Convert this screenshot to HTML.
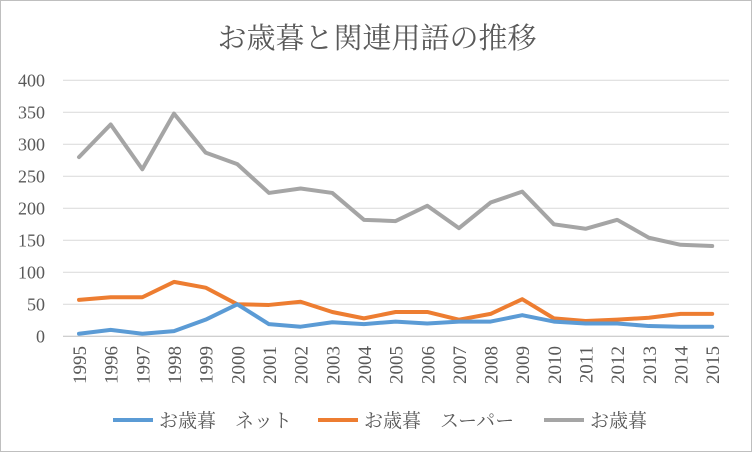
<!DOCTYPE html>
<html><head><meta charset="utf-8"><style>
body{margin:0;background:#fff}
svg{display:block}
</style></head><body>
<svg id="chart" width="752" height="452" xmlns="http://www.w3.org/2000/svg">
<rect x="0.5" y="0.5" width="751" height="451" fill="#fff" stroke="#bfbfbf"/>
<text x="377" y="48" text-anchor="middle" font-family="'Liberation Serif','Noto Serif CJK SC',serif" font-size="29" fill="#595959">お歳暮と関連用語の推移</text>
<g id="grid"></g><g id="yt"></g><g id="xt"></g><g id="series"></g>
<g font-family="'Liberation Serif','Noto Serif CJK SC',serif" font-size="19" fill="#595959">
<g><line x1="113" y1="420" x2="153" y2="420" stroke="#5b9bd5" stroke-width="4"/><text x="159" y="427">お歳暮　ネット</text></g>
<g><line x1="318" y1="420" x2="358" y2="420" stroke="#ed7d31" stroke-width="4"/><text x="364" y="427">お歳暮　スーパー</text></g>
<g><line x1="544" y1="420" x2="584" y2="420" stroke="#a5a5a5" stroke-width="4"/><text x="590" y="427">お歳暮</text></g>
</g>
</svg>
<script>
const years=[1995,1996,1997,1998,1999,2000,2001,2002,2003,2004,2005,2006,2007,2008,2009,2010,2011,2012,2013,2014,2015];
const netValues=[4,10,4,8,26,50,19,15,22,19,23,20,23,23,33,23,20,20,16,15,15];
const superValues=[57,61,61,85,76,50,49,54,38,28,38,38,26,35,58,28,24,26,29,35,35];
const oseiboValues=[280,331,261,348,287,269,224,231,224,182,180,204,169,209,226,175,168,182,154,143,141];
const yTicks=[0,50,100,150,200,250,300,350,400];
const NS='http://www.w3.org/2000/svg';
const x=i=>79+i*31.66;
const y=v=>336.3-v*0.64;
function mk(t,a,p){const e=document.createElementNS(NS,t);for(const k in a)e.setAttribute(k,a[k]);p.appendChild(e);return e;}
const grid=document.getElementById('grid'),yt=document.getElementById('yt'),xt=document.getElementById('xt'),ser=document.getElementById('series');
yTicks.forEach(v=>{
 const l=mk('line',{x1:63,x2:729,y1:y(v),y2:y(v),stroke:v===0?'#bfbfbf':'#d9d9d9','stroke-width':1},grid);
 
 
 const t=mk('text',{x:45,y:y(v)+6,'text-anchor':'end','font-family':"'Liberation Serif',serif",'font-size':18,fill:'#595959'},yt);
 t.textContent=v;
 
 
});
years.forEach((yr,i)=>{
 const t=mk('text',{x:0,y:0,transform:`translate(${x(i)+7},346) rotate(-90)`,'text-anchor':'end','font-family':"'Liberation Serif',serif",'font-size':19,fill:'#595959'},xt);
 t.textContent=yr;
 
 
});
[[oseiboValues,'#a5a5a5','series-oseibo'],[superValues,'#ed7d31','series-super'],[netValues,'#5b9bd5','series-net']].forEach(([vals,c,n])=>{
 const p=mk('polyline',{points:vals.map((v,i)=>x(i)+','+y(v)).join(' '),fill:'none',stroke:c,'stroke-width':4,'stroke-linejoin':'round','stroke-linecap':'round'},ser);
 
 
});
</script>
</body></html>
